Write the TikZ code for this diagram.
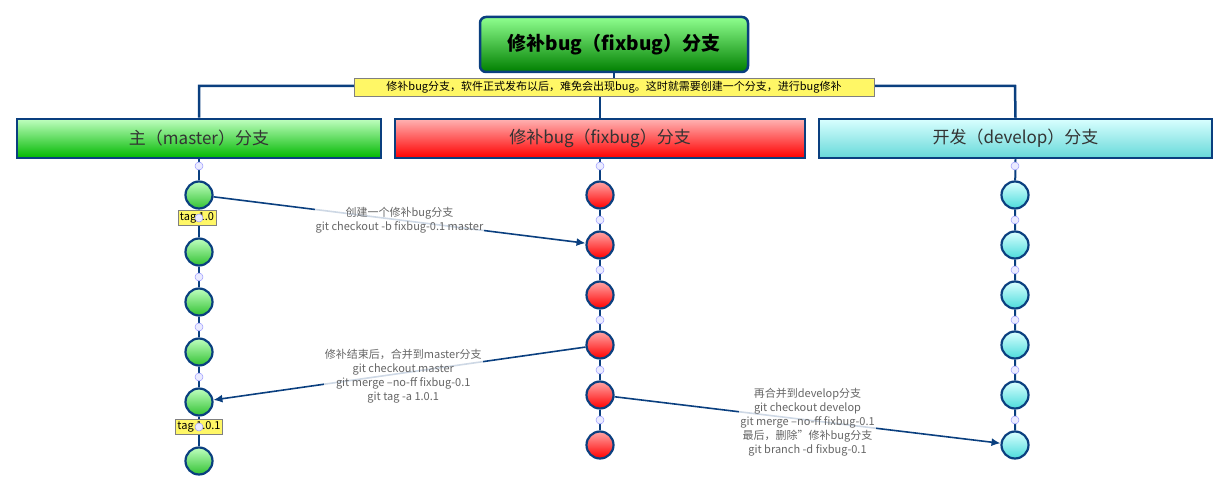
\documentclass[tikz,border=0pt]{standalone}
\usepackage{fontspec}
\setmainfont{Noto Sans CJK SC}
\usetikzlibrary{arrows.meta}
\definecolor{edge}{HTML}{0A3F7F}
\tikzset{
  box/.style={draw=edge,line width=2.5pt,minimum height=39pt,inner sep=0pt,font=\fontsize{17}{20}\selectfont,text=black!80},
  commit/.style={circle,draw=edge,line width=2.2pt,minimum size=27pt,inner sep=0pt},
  gc/.style={commit,top color=green!25!white,bottom color=green!70!black!80},
  rc/.style={commit,top color=red!35!white,bottom color=red},
  cc/.style={commit,top color=cyan!15!white,bottom color=cyan!60!teal!70},
  mini/.style={circle,draw=blue!40,fill=blue!8,line width=0.5pt,minimum size=8pt,inner sep=0pt},
  tagbox/.style={draw=gray,fill=yellow!60,font=\fontsize{11}{13}\selectfont,inner sep=2pt},
  vline/.style={draw=edge,line width=2.5pt},
  arr/.style={draw=edge,line width=1.6pt,-{Latex[length=9pt,width=8pt]}},
  lbl/.style={fill=white,fill opacity=0.8,text opacity=1,text=black!60,font=\fontsize{11}{14}\selectfont,align=center,inner sep=1pt}
}
\begin{document}
\begin{tikzpicture}[x=1pt,y=-1pt]
\useasboundingbox (0,0) rectangle (1229,492);
% header
\node[draw=edge,line width=2.5pt,rounded corners=6pt,top color=green!30!white!80!green,bottom color=green!50!black,minimum width=268pt,minimum height=55pt,font=\bfseries\fontsize{19}{22}\selectfont] (title) at (614,44.5) {修补bug（fixbug）分支};
\coordinate (hl) at (199,86); \coordinate (hm) at (600,86); \coordinate (hr) at (1015,86); \coordinate (ht) at (614,86);
\node[box,minimum width=364pt,top color=green!25!white,bottom color=green!60!black!70!green] (mb) at (199,138.5) {主（master）分支};
\node[box,minimum width=410pt,top color=red!30!white,bottom color=red] (fb) at (600,138.5) {修补bug（fixbug）分支};
\node[box,minimum width=393pt,top color=cyan!15!white,bottom color=cyan!50!teal!60] (db) at (1015.5,138.5) {开发（develop）分支};
\draw[vline] (title.south) -- (ht);
\draw[vline] (mb.north) -- (hl) -- (hr) -- (db.north);
\draw[vline] (fb.north) -- (hm);
\node[draw=gray,fill=yellow!60,font=\fontsize{11}{13}\selectfont,inner sep=2pt,minimum width=520pt,minimum height=18pt] (note) at (614,87) {修补bug分支，软件正式发布以后，难免会出现bug。这时就需要创建一个分支，进行bug修补};
% columns
\foreach \y [count=\i] in {195,252,302,352,402,461} \node[gc] (m\i) at (199,\y) {};
\foreach \y [count=\i] in {195,245,295,345,395,445} \node[rc] (f\i) at (600,\y) {};
\foreach \y [count=\i] in {195,245,295,345,395,445} \node[cc] (d\i) at (1015,\y) {};
\draw[vline,line width=2pt] (mb.south) -- (m1) (m1)--(m2) (m2)--(m3) (m3)--(m4) (m4)--(m5) (m5)--(m6);
\draw[vline,line width=2pt] (fb.south) -- (f1) (f1)--(f2) (f2)--(f3) (f3)--(f4) (f4)--(f5) (f5)--(f6);
\draw[vline,line width=2pt] (db.south) -- (d1) (d1)--(d2) (d2)--(d3) (d3)--(d4) (d4)--(d5) (d5)--(d6);
\node[tagbox] (t1) at (197,218) {tag 1.0};
\node[tagbox] (t2) at (199,427) {tag 1.0.1};
\foreach \x in {199,600,1015} \node[mini] at (\x,166) {};
\foreach \y in {218,277,327,377,427} \node[mini] at (199,\y) {};
\foreach \y in {220,270,320,370,420} {\node[mini] at (600,\y) {}; \node[mini] at (1015,\y) {};}
% arrows
\draw[arr] (m1) -- node[lbl,pos=0.5] (l1) {创建一个修补bug分支\\git checkout -b fixbug-0.1 master} (f2);
\draw[arr] (f4) -- node[lbl,pos=0.49,yshift=-3pt] (l2) {修补结束后，合并到master分支\\git checkout master\\git merge --no-ff fixbug-0.1\\git tag -a 1.0.1} (m5);
\draw[arr] (f5) -- node[lbl,pos=0.5,yshift=-2pt] (l3) {再合并到develop分支\\git checkout develop\\git merge --no-ff fixbug-0.1\\最后，删除"修补bug分支\\git branch -d fixbug-0.1} (d6);
\end{tikzpicture}
\end{document}
